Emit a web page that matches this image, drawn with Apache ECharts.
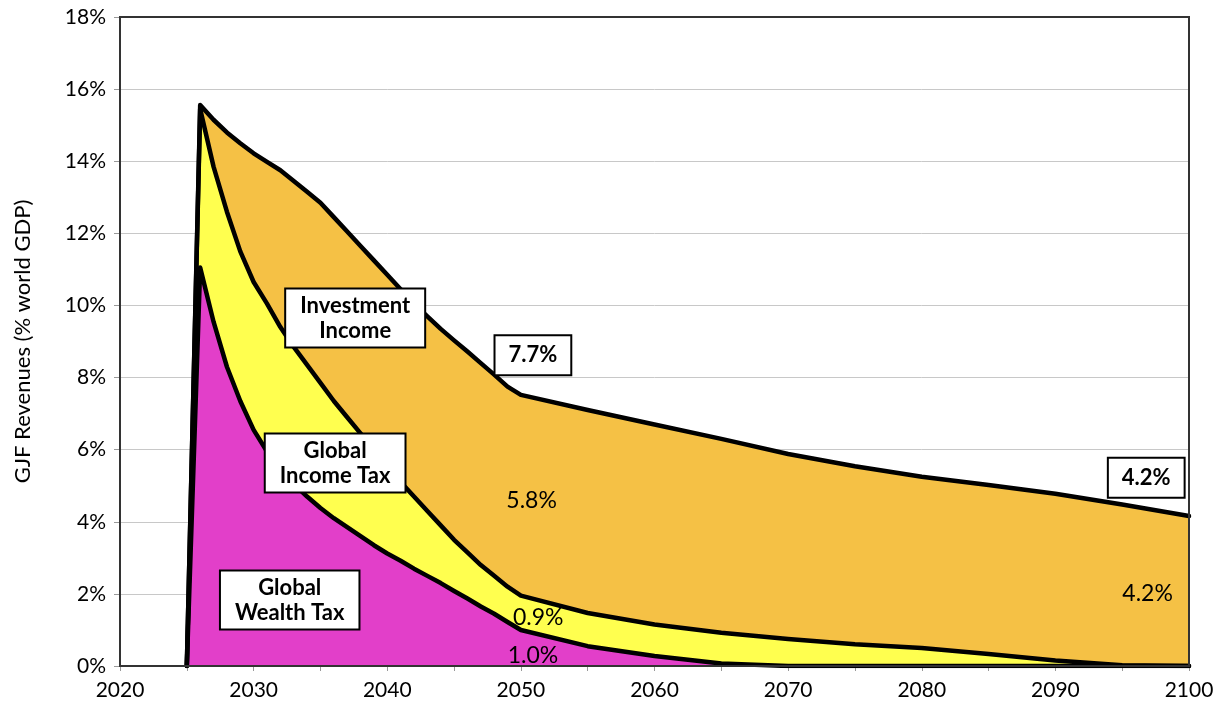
<!DOCTYPE html>
<html>
<head>
<meta charset="utf-8">
<script src="https://cdn.jsdelivr.net/npm/echarts@6/dist/echarts.min.js"></script>
<style>
html,body{margin:0;padding:0;background:#fff;}
#chart{width:1221px;height:711px;}
</style>
</head>
<body>
<div id="chart"></div>
<script>
// ---- data (percent of world GDP) ----
const years = [2025,2026,2027,2028,2029,2030,2031,2032,2033,2034,2035,2036,2037,2038,2039,2040,
               2041,2042,2043,2044,2045,2046,2047,2048,2049,2050,2055,2060,2065,2070,2075,2080,2085,2090,2095,2100];
const wealthTax = [0,11.05,9.55,8.30,7.35,6.55,5.95,5.45,5.05,4.70,4.38,4.10,3.85,3.60,3.35,3.12,
                   2.92,2.70,2.50,2.30,2.08,1.87,1.65,1.45,1.22,1.00,0.55,0.28,0.07,0,0,0,0,0,0,0];
const incomeTax = [0,4.40,4.30,4.30,4.15,4.10,4.10,3.95,3.80,3.65,3.47,3.25,3.05,2.85,2.65,2.43,
                   2.18,2.00,1.80,1.60,1.42,1.28,1.15,1.05,0.98,0.95,0.92,0.87,0.85,0.75,0.60,0.50,0.33,0.15,0.02,0];
const investmentIncome = [0,0.11,1.30,2.20,3.00,3.57,3.93,4.35,4.60,4.80,5.00,5.10,5.15,5.20,5.25,5.30,
                   5.35,5.35,5.40,5.45,5.53,5.57,5.60,5.58,5.55,5.57,5.63,5.55,5.38,5.13,4.94,4.75,4.69,4.63,4.46,4.16];
const yTicks = [0,2,4,6,8,10,12,14,16,18];
const xLabelYears = [2020,2030,2040,2050,2060,2070,2080,2090,2100];

const seriesNames = ['Global Wealth Tax','Global Income Tax','Investment Income'];
const seriesColors = ['#E23FC9','#FFFF4F','#F5C145'];
const seriesValues = [wealthTax, incomeTax, investmentIncome];

// annotations: [text, x(year), y(%), boxed]
const annotations = [
  ['Investment\nIncome', 2037.6, 9.65, true],
  ['7.7%', 2050.9, 8.62, true],
  ['Global\nIncome Tax', 2036.1, 5.63, true],
  ['5.8%', 2050.8, 4.6, false],
  ['Global\nWealth Tax', 2032.7, 1.83, true],
  ['0.9%', 2051.3, 1.33, false],
  ['1.0%', 2050.9, 0.3, false],
  ['4.2%', 2096.8, 5.22, true],
  ['4.2%', 2096.9, 2.0, false]
];

const FONT = 'Lato';

// cumulative (stacked) tops of each layer
const cumulative = [];
seriesValues.forEach((vals, k) => {
  cumulative.push(vals.map((v, i) => (k > 0 ? cumulative[k-1][i] : 0) + v));
});

const series = [];
for (let k = seriesValues.length - 1; k >= 0; k--) {
  series.push({
    name: seriesNames[k], type: 'line', data: years.map((y,i)=>[y, cumulative[k][i]]),
    symbol: 'none', smooth: false, lineStyle: {width: 0},
    areaStyle: {color: seriesColors[k], opacity: 1, origin: 'start'}, z: 2 + (2 - k) * 0.1, silent: true
  });
}
for (let k = 0; k < seriesValues.length; k++) {
  series.push({
    name: seriesNames[k] + ' edge', type: 'line', data: years.map((y,i)=>[y, cumulative[k][i]]),
    symbol: 'none', smooth: false,
    lineStyle: {width: 4.5, color: '#000', join: 'round', cap: 'round'},
    z: 5, silent: true
  });
}

series.push({
  type: 'scatter', data: [], z: 30,
  markPoint: {
    symbol: 'rect', symbolSize: 0, silent: true, z: 30,
    data: annotations.map(a => {
      const multi = a[0].indexOf('\n') >= 0;
      return {
        coord: [a[1], a[2]],
        label: {
          show: true, position: 'inside', formatter: a[0],
          fontFamily: FONT, fontSize: a[3] ? 22 : 23,
          fontWeight: a[3] ? 'bold' : 'normal', color: '#000',
          lineHeight: 25, align: 'center',
          backgroundColor: a[3] ? '#fff' : 'transparent',
          borderColor: a[3] ? '#000' : 'transparent', borderWidth: a[3] ? 2 : 0,
          padding: a[3] ? (multi ? [4,14,3,14] : [7,13,6,13]) : 0
        }
      };
    })
  }
});

const chart = echarts.init(document.getElementById('chart'), null, {renderer: 'canvas'});
chart.setOption({
  animation: false,
  backgroundColor: '#fff',
  grid: {left: 120, right: 32, top: 17, bottom: 45, show: true, borderColor: '#333', borderWidth: 2, backgroundColor: 'transparent', z: 20},
  xAxis: {
    type: 'value', min: 2020, max: 2100, interval: 5,
    axisLine: {show: true, lineStyle: {color: '#333', width: 2}},
    axisTick: {show: true, length: 5, lineStyle: {color: '#999'}},
    splitLine: {show: false},
    axisLabel: {
      fontFamily: FONT, fontSize: 21, color: '#000', margin: 14,
      formatter: v => xLabelYears.indexOf(v) >= 0 ? String(v) : ''
    }
  },
  yAxis: {
    type: 'value', min: 0, max: 18, interval: 2,
    name: 'GJF Revenues (% world GDP)', nameLocation: 'middle', nameGap: 86,
    nameTextStyle: {fontFamily: FONT, fontSize: 22, color: '#000'},
    axisLine: {show: true, lineStyle: {color: '#333', width: 2}},
    axisTick: {show: true, length: 6, lineStyle: {color: '#999'}},
    splitLine: {show: true, lineStyle: {color: '#c8c8c8', width: 1}},
    axisLabel: {
      fontFamily: FONT, fontSize: 21, color: '#000', margin: 14,
      formatter: v => yTicks.indexOf(v) >= 0 ? v + '%' : ''
    }
  },
  series: series
});
</script>
</body>
</html>
